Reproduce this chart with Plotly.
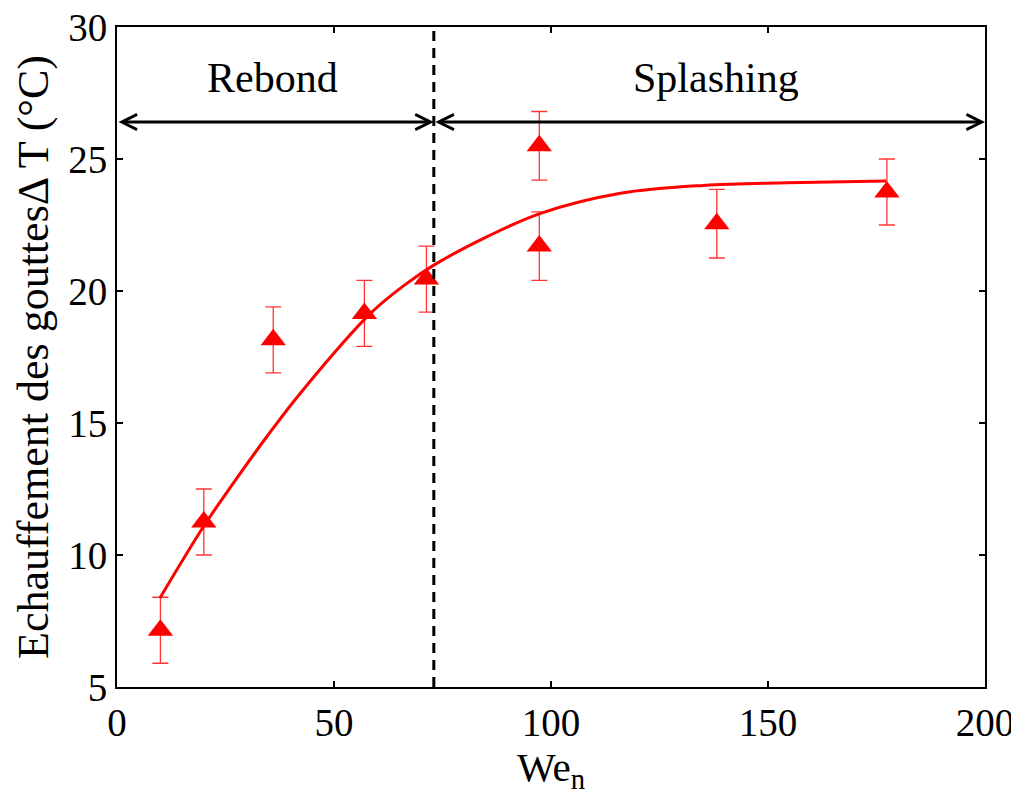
import plotly.graph_objects as go

# Measured data points (We_n, ΔT) with error bars
we_pts = [10, 20, 36, 57, 71.3, 97.3, 97.3, 138.2, 177.4]
dt_pts = [7.15, 11.25, 18.15, 19.15, 20.45, 25.5, 21.7, 22.55, 23.75]
dt_err = [1.25, 1.25, 1.25, 1.25, 1.25, 1.3, 1.3, 1.3, 1.25]

# Fit curve
fit_x = [9.9, 19.9, 26.8, 34.5, 42.2, 58.4, 66.8, 73.0, 85.3, 97.6, 116, 135.2, 154.5, 177.2]
fit_y = [8.37, 11.07, 12.72, 14.48, 16.12, 19.15, 20.29, 20.98, 22.06, 22.94, 23.70, 24.0, 24.1, 24.17]

# Regime boundary and labels
boundary_x = 73
arrow_y = 26.4
x_min, x_max = 0, 200
y_min, y_max = 5, 30
regime_labels = ["Rebond", "Splashing"]
regime_label_x = [35.8, 138]
regime_label_y = 28.07

x_ticks = [0, 50, 100, 150, 200]
y_ticks = [5, 10, 15, 20, 25, 30]

FONT = "Liberation Serif, Times New Roman, serif"

fig = go.Figure()

fig.add_trace(go.Scatter(
    x=fit_x, y=fit_y, mode="lines",
    line=dict(color="#ff0000", width=3, shape="spline", smoothing=1.0),
    showlegend=False, hoverinfo="skip"))

fig.add_trace(go.Scatter(
    x=we_pts, y=dt_pts, mode="markers",
    marker=dict(symbol="triangle-up", size=22, color="#ff0000", line=dict(width=0)),
    error_y=dict(type="data", array=dt_err, visible=True,
                 color="rgba(255,0,0,0.8)", thickness=1.3, width=8),
    showlegend=False))

# dashed boundary
fig.add_shape(type="line", x0=boundary_x, x1=boundary_x, y0=y_min, y1=y_max,
              xref="x", yref="y", line=dict(color="black", width=3, dash="10px,7px"))

# double arrows
for (xa, xb) in [(x_min, boundary_x), (boundary_x, x_max)]:
    fig.add_annotation(x=xb, y=arrow_y, ax=xa, ay=arrow_y,
                       xref="x", yref="y", axref="x", ayref="y",
                       showarrow=True, arrowhead=5, startarrowhead=5,
                       arrowside="end+start", arrowsize=1, startarrowsize=1,
                       arrowwidth=3, arrowcolor="black", text="",
                       standoff=0, startstandoff=0)

for lbl, lx in zip(regime_labels, regime_label_x):
    fig.add_annotation(x=lx, y=regime_label_y, xref="x", yref="y", text=lbl,
                       showarrow=False, font=dict(family=FONT, size=42, color="black"))

axis_common = dict(showline=True, linecolor="black", linewidth=2, mirror="ticks",
                   ticks="inside", ticklen=6, tickwidth=1.5, tickcolor="black",
                   showgrid=False, zeroline=False, automargin=False,
                   ticklabeloverflow="allow",
                   tickfont=dict(family=FONT, size=39, color="black"))

fig.update_xaxes(range=[x_min, x_max], tickvals=x_ticks,
                 title=dict(text="We<sub>n</sub>", font=dict(family=FONT, size=41, color="black"),
                            standoff=4),
                 **axis_common)
fig.update_yaxes(range=[y_min, y_max], tickvals=y_ticks,
                 title=dict(text="Echauffement des gouttesΔ T (°C)",
                            font=dict(family=FONT, size=44, color="black"), standoff=6),
                 **axis_common)

fig.update_layout(width=1019, height=798,
                  margin=dict(l=109, r=42, t=19, b=119),
                  plot_bgcolor="white", paper_bgcolor="white",
                  font=dict(family=FONT, color="black"))

fig.write_html("out.html")
